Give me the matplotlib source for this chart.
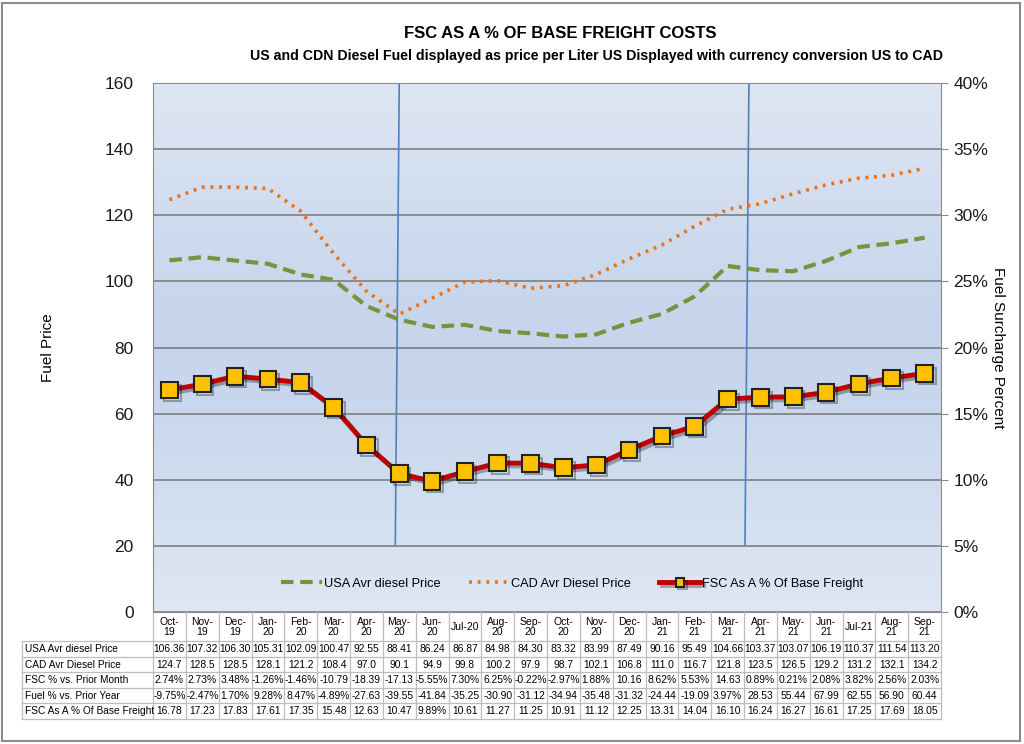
import matplotlib
matplotlib.use("Agg")
import matplotlib.pyplot as plt
import matplotlib.patheffects as pe
from matplotlib.colors import LinearSegmentedColormap
from matplotlib.patches import Rectangle
import numpy as np

plt.rcParams['font.family'] = ['Liberation Sans', 'DejaVu Sans']

months = ['Oct-\n19', 'Nov-\n19', 'Dec-\n19', 'Jan-\n20', 'Feb-\n20', 'Mar-\n20', 'Apr-\n20',
          'May-\n20', 'Jun-\n20', 'Jul-20', 'Aug-\n20', 'Sep-\n20', 'Oct-\n20', 'Nov-\n20',
          'Dec-\n20', 'Jan-\n21', 'Feb-\n21', 'Mar-\n21', 'Apr-\n21', 'May-\n21', 'Jun-\n21',
          'Jul-21', 'Aug-\n21', 'Sep-\n21']

usa_price = [106.36, 107.32, 106.30, 105.31, 102.09, 100.47, 92.55, 88.41, 86.24, 86.87, 84.98, 84.30,
             83.32, 83.99, 87.49, 90.16, 95.49, 104.66, 103.37, 103.07, 106.19, 110.37, 111.54, 113.20]
cad_price = [124.7, 128.5, 128.5, 128.1, 121.2, 108.4, 97.0, 90.1, 94.9, 99.8, 100.2, 97.9,
             98.7, 102.1, 106.8, 111.0, 116.7, 121.8, 123.5, 126.5, 129.2, 131.2, 132.1, 134.2]
fsc_month = ['2.74%', '2.73%', '3.48%', '-1.26%', '-1.46%', '-10.79', '-18.39', '-17.13', '-5.55%',
             '7.30%', '6.25%', '-0.22%', '-2.97%', '1.88%', '10.16', '8.62%', '5.53%', '14.63',
             '0.89%', '0.21%', '2.08%', '3.82%', '2.56%', '2.03%']
fuel_year = ['-9.75%', '-2.47%', '1.70%', '9.28%', '8.47%', '-4.89%', '-27.63', '-39.55', '-41.84',
             '-35.25', '-30.90', '-31.12', '-34.94', '-35.48', '-31.32', '-24.44', '-19.09', '3.97%',
             '28.53', '55.44', '67.99', '62.55', '56.90', '60.44']
fsc_pct = [16.78, 17.23, 17.83, 17.61, 17.35, 15.48, 12.63, 10.47, 9.89, 10.61, 11.27, 11.25,
           10.91, 11.12, 12.25, 13.31, 14.04, 16.10, 16.24, 16.27, 16.61, 17.25, 17.69, 18.05]
fsc_pct_text = ['16.78', '17.23', '17.83', '17.61', '17.35', '15.48', '12.63', '10.47', '9.89%',
                '10.61', '11.27', '11.25', '10.91', '11.12', '12.25', '13.31', '14.04', '16.10',
                '16.24', '16.27', '16.61', '17.25', '17.69', '18.05']

row_names = ['USA Avr diesel Price', 'CAD Avr Diesel Price', 'FSC % vs. Prior Month',
             'Fuel % vs. Prior Year', 'FSC As A % Of Base Freight']
marker_lines = [7.0, 17.65]   # hand drawn blue lines

W, H = 1024, 744
fig = plt.figure(figsize=(W / 100, H / 100), dpi=100)
fig.patches.append(Rectangle((2 / W, 3 / H), 1018 / W, 738 / H, transform=fig.transFigure,
                             fill=False, edgecolor='#8c8c8c', linewidth=1.5))

ax = fig.add_axes([153 / W, (H - 612) / H, 788 / W, 529 / H])
n = len(months)
x = np.arange(n)
ax.set_xlim(-0.5, n - 0.5)
ax.set_ylim(0, 160)

# gradient background
cmap = LinearSegmentedColormap.from_list('bg', [(0, '#dde6f3'), (0.45, '#c6d5ec'),
                                                (0.6, '#c8d7ed'), (1, '#dee7f3')])
grad = np.linspace(0, 1, 256).reshape(-1, 1)
ax.imshow(grad, aspect='auto', cmap=cmap, extent=(0, 1, 0, 1), transform=ax.transAxes, zorder=0)

ax.set_yticks(np.arange(0, 161, 20))
ax.grid(axis='y', color='#767676', linewidth=1.1, zorder=1)
ax.set_xticks([])
ax.tick_params(axis='y', length=0, labelsize=12.5, pad=14, labelcolor='#1a1a1a')
for s in ax.spines.values():
    s.set_color('#8a8a8a')
ax.set_ylabel('Fuel Price', fontsize=11, labelpad=36)

for xv in marker_lines:
    ax.plot([xv, xv - 0.12], [160, 20.5], color='#4f81bd', linewidth=1.2, zorder=2)

l1, = ax.plot(x, usa_price, color='#77933c', linewidth=3, dashes=(3, 1.6), zorder=3,
              label='USA Avr diesel Price')
l2, = ax.plot(x, cad_price, color='#f07010', linewidth=2.6, dashes=(0.8, 1.6), zorder=3,
              label='CAD Avr Diesel Price')

ax2 = ax.twinx()
ax2.set_ylim(0, 40)
ax2.set_yticks(np.arange(0, 41, 5))
ax2.set_yticklabels([f'{v}%' for v in range(0, 41, 5)])
ax2.tick_params(axis='y', length=5, color='#8a8a8a', labelsize=12.5, pad=4, labelcolor='#1a1a1a')
for s in ax2.spines.values():
    s.set_visible(False)
ax2.set_ylabel('Fuel Surcharge Percent', fontsize=11, rotation=-90, labelpad=12)
l3, = ax2.plot(x, fsc_pct, color='#c00000', linewidth=3.5, marker='s', markersize=12,
               markerfacecolor='#ffc000', markeredgecolor='#222222', markeredgewidth=1.5,
               zorder=4, label='FSC As A % Of Base Freight',
               path_effects=[pe.SimpleLineShadow(offset=(2, -2), alpha=0.3), pe.Normal()])

leg = ax.legend(handles=[l1, l2, l3], loc='lower center', bbox_to_anchor=(0.532, 0.02),
                ncol=3, frameon=False, fontsize=9.2, handlelength=3.2, columnspacing=2.2,
                handletextpad=0.15, markerscale=0.5)
leg.set_zorder(10)

fig.text(560 / W, (H - 33) / H, 'FSC AS A % OF BASE FREIGHT COSTS', ha='center', va='center',
         fontsize=12, fontweight='bold')
fig.text(597 / W, (H - 56) / H,
         'US and CDN Diesel Fuel displayed as price per Liter US Displayed with currency conversion US to CAD',
         ha='center', va='center', fontsize=10.2, fontweight='bold')

# data table below the axis
tab = fig.add_axes([0, 0, 1, 1])
tab.set_xlim(0, W)
tab.set_ylim(H, 0)
tab.axis('off')
x0, x1 = 153, 941
lab_x = 22
cw = (x1 - x0) / n
head_top, head_bot = 612, 641
rh = 15.5
rows = [[f'{v:.2f}' for v in usa_price], [f'{v:.1f}' for v in cad_price], fsc_month, fuel_year,
        fsc_pct_text]
bottom = head_bot + rh * len(rows)
gc = '#bdbdbd'
for i in range(n + 1):
    xe = x0 + i * cw
    tab.plot([xe, xe], [head_top, bottom], color=gc, linewidth=0.9)
tab.plot([lab_x, lab_x], [head_bot, bottom], color=gc, linewidth=0.9)
for j in range(len(rows) + 1):
    ye = head_bot + j * rh
    tab.plot([lab_x, x1], [ye, ye], color=gc, linewidth=0.9)
for i, m in enumerate(months):
    tab.text(x0 + (i + 0.5) * cw, (head_top + head_bot) / 2 + 0.5, m, ha='center', va='center',
             fontsize=7.5, linespacing=1.1)
for j, (name, vals) in enumerate(zip(row_names, rows)):
    yc = head_bot + (j + 0.5) * rh + 0.5
    tab.text(lab_x + 3, yc, name, ha='left', va='center', fontsize=7.3)
    for i, v in enumerate(vals):
        tab.text(x0 + (i + 0.5) * cw, yc, v, ha='center', va='center', fontsize=7.4)

fig.savefig('out.png', dpi=100)
